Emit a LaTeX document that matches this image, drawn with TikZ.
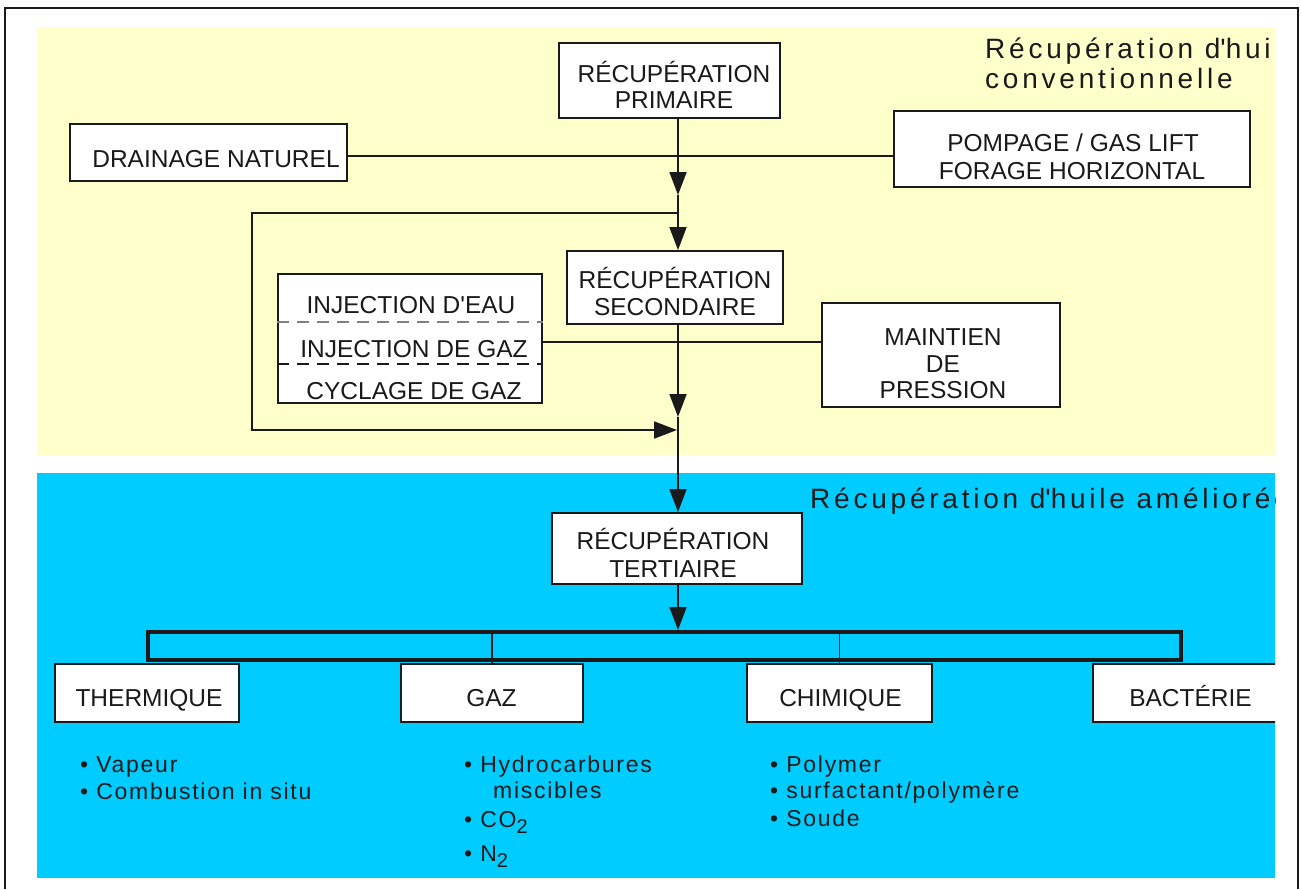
\documentclass[tikz,border=0pt]{standalone}
\usepackage{fontspec}
\setmainfont{Liberation Sans}
\newfontfamily\headfont[LetterSpace=13.5]{Liberation Sans}
\newfontfamily\listfont[LetterSpace=7.5]{Liberation Sans}
\usetikzlibrary{arrows.meta}
\definecolor{paleyellow}{HTML}{FFFFCC}
\definecolor{skyblue}{HTML}{00CCFF}
\definecolor{ink}{HTML}{1A1A1A}
\newcommand\lowtwo{\raisebox{-6pt}[0pt][0pt]{\fontsize{20}{20}\selectfont 2}}
\newcommand\apos{\textquotesingle}

\tikzset{
  box/.style={draw=ink, line width=1.8pt, fill=white, inner sep=0pt},
  boxtext/.style={anchor=base, inner sep=0pt, text=ink, font=\fontsize{24.5}{27}\selectfont},
  listtext/.style={anchor=base west, inner sep=0pt, text=ink, font=\listfont\fontsize{23}{26}\selectfont},
  headtext/.style={anchor=base west, inner sep=0pt, text=ink, font=\headfont\fontsize{28}{30}\selectfont},
  link/.style={draw=ink, line width=1.8pt},
  flow/.style={link, -{Triangle[width=17pt,length=23pt]}},
  tick/.style={draw=ink, line width=1.3pt},
  sep/.style={line width=1.5pt, dash pattern=on 12pt off 8pt},
}

\begin{document}
\begin{tikzpicture}[x=1pt,y=-1pt]
\useasboundingbox (0,0) rectangle (1301,889);

% outer frame (open at the bottom)
\draw[ink, line width=2.6pt] (5,889) -- (5,8) -- (1298,8) -- (1298,889);

\begin{scope}
\clip (37,27) rectangle (1275,880);
% the two bands
\fill[paleyellow] (37,27) rectangle (1275,455);
\fill[skyblue] (37,473) rectangle (1275,878);

% band titles
\node[headtext] (hconv1) at (985,58) {Récupération d\apos huile};
\node[headtext] (hconv2) at (985,88) {conventionnelle};
\node[headtext] (henh) at (810,508) {Récupération d\apos huile améliorée};

% primary recovery
\node[box, minimum width=221pt, minimum height=75pt] (prim) at (669.5,80.5) {};
\node[boxtext] (primt1) at (674,82) {RÉCUPÉRATION};
\node[boxtext] (primt2) at (674,108) {PRIMAIRE};

\node[box, minimum width=277pt, minimum height=57pt] (drain) at (208.5,152.5) {};
\node[boxtext] (draint) at (216,167) {DRAINAGE NATUREL};

\node[box, minimum width=356pt, minimum height=76pt] (pomp) at (1072,149) {};
\node[boxtext] (pompt1) at (1073,151) {POMPAGE / GAS LIFT};
\node[boxtext] (pompt2) at (1072,179) {FORAGE HORIZONTAL};

% secondary recovery
\node[box, minimum width=216pt, minimum height=73pt] (sec) at (675,287.5) {};
\node[boxtext] (sect1) at (675,288) {RÉCUPÉRATION};
\node[boxtext] (sect2) at (675,315) {SECONDAIRE};

\node[box, minimum width=264pt, minimum height=129pt] (inj) at (410,338.5) {};
\node[boxtext] (injt1) at (411,313) {INJECTION D\apos EAU};
\node[boxtext] (injt2) at (414,357) {INJECTION DE GAZ};
\node[boxtext] (injt3) at (414,399) {CYCLAGE DE GAZ};
\coordinate (d1) at (410,322);
\coordinate (d2) at (410,364);
\draw[sep, gray] (inj.west |- d1) -- (inj.east |- d1);
\draw[sep, ink] (inj.west |- d2) -- (inj.east |- d2);

\node[box, minimum width=238pt, minimum height=104pt] (maint) at (941,355) {};
\node[boxtext] (maintt1) at (943,345) {MAINTIEN};
\node[boxtext] (maintt2) at (943,372) {DE};
\node[boxtext] (maintt3) at (943,398) {PRESSION};

% tertiary recovery
\node[box, minimum width=250pt, minimum height=71pt] (tert) at (677,548.5) {};
\node[boxtext] (tertt1) at (673,549) {RÉCUPÉRATION};
\node[boxtext] (tertt2) at (673,577) {TERTIAIRE};

\node[draw=ink, line width=4pt, fill=skyblue, inner sep=0pt,
      minimum width=1033pt, minimum height=28pt] (brk) at (664.5,646) {};

\node[box, minimum width=184pt, minimum height=58pt] (therm) at (147,693) {};
\node[boxtext] (thermt) at (149,706) {THERMIQUE};
\node[box, minimum width=182pt, minimum height=58pt] (gaz) at (492,693) {};
\node[boxtext] (gazt) at (491.5,706) {GAZ};
\node[box, minimum width=185pt, minimum height=58pt] (chim) at (839.5,693) {};
\node[boxtext] (chimt) at (840.5,706) {CHIMIQUE};
\node[box, minimum width=202pt, minimum height=58pt] (bact) at (1194,693) {};
\node[boxtext] (bactt) at (1190.5,706) {BACTÉRIE};

\draw[tick] (gaz.north |- brk.north) -- (gaz.north);
\draw[tick] (chim.north |- brk.north) -- (chim.north);

% methods under each family
\node[listtext] (th1) at (80,772) {• Vapeur};
\node[listtext] (th2) at (80,799) {• Combustion in situ};
\node[listtext] (gz1) at (464,772) {• Hydrocarbures};
\node[listtext] (gz2) at (493,798) {miscibles};
\node[listtext] (gz3) at (464,827) {• CO\lowtwo};
\node[listtext] (gz4) at (464,861) {• N\lowtwo};
\node[listtext] (ch1) at (770,772) {• Polymer};
\node[listtext] (ch2) at (770,798) {• surfactant/polymère};
\node[listtext] (ch3) at (770,826) {• Soude};

% connectors
\coordinate (h1) at (678,156);
\coordinate (j1) at (678,195);
\coordinate (j2) at (678,213);
\coordinate (h2) at (678,342);
\coordinate (j3) at (678,417);
\coordinate (lc) at (252,430);
\coordinate (j4) at (677,430);

\draw[link] (drain.east |- h1) -- (pomp.west |- h1);
\draw[flow] (j1 |- prim.south) -- (j1);
\draw[flow] (j1) -- (j1 |- sec.north);
\draw[flow] (j2) -| (lc) -- (j4);
\draw[link] (inj.east |- h2) -- (maint.west |- h2);
\draw[flow] (j3 |- sec.south) -- (j3);
\draw[flow] (j3) -- (j3 |- tert.north);
\draw[flow] (j3 |- tert.south) -- (j3 |- brk.north);
\end{scope}
\end{tikzpicture}
\end{document}
